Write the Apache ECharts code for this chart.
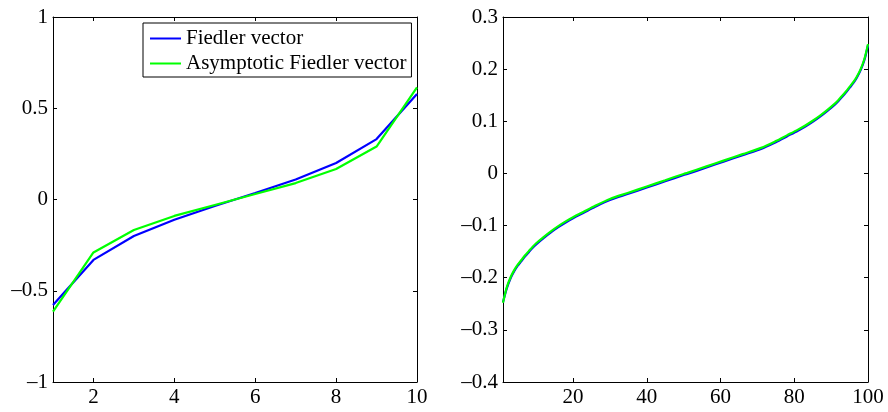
<!DOCTYPE html>
<html>
<head>
<meta charset="utf-8">
<script src="https://cdn.jsdelivr.net/npm/echarts@6/dist/echarts.min.js"></script>
<style>
html,body{margin:0;padding:0;background:#fff;}
#c{width:888px;height:412px;}
</style>
</head>
<body>
<div id="c"></div>
<script>
// ---- data ----
const seriesNames = ['Fiedler vector', 'Asymptotic Fiedler vector'];

const leftX = [1, 2, 3, 4, 5, 6, 7, 8, 9, 10];
const leftFiedler = [-0.578, -0.331, -0.200, -0.111, -0.036, 0.036, 0.110, 0.200, 0.331, 0.578];
const leftAsym    = [-0.615, -0.290, -0.167, -0.090, -0.030, 0.030, 0.090, 0.167, 0.290, 0.615];

const rightX = [1, 2, 3, 4, 5, 6, 7, 8, 9, 10, 12, 14, 16, 18, 20, 23, 26, 30, 35, 40, 45, 50,
                51, 56, 61, 66, 71, 75, 78, 81, 83, 85, 87, 89, 91, 92, 93, 94, 95, 96, 97, 98, 99, 100];
const rightFiedler = [-0.247, -0.221, -0.202, -0.188, -0.177, -0.168, -0.159, -0.151, -0.143, -0.136,
                      -0.124, -0.113, -0.103, -0.094, -0.086, -0.075, -0.064, -0.051, -0.039, -0.027,
                      -0.015, -0.003, -0.001, 0.011, 0.023, 0.035, 0.047, 0.060, 0.071, 0.082, 0.090,
                      0.099, 0.109, 0.120, 0.132, 0.139, 0.147, 0.155, 0.164, 0.173, 0.184, 0.198,
                      0.217, 0.246];
const rightAsym = [-0.248, -0.219, -0.200, -0.186, -0.175, -0.166, -0.157, -0.149, -0.141, -0.134,
                   -0.122, -0.111, -0.101, -0.092, -0.084, -0.073, -0.062, -0.049, -0.037, -0.025,
                   -0.013, -0.001, 0.001, 0.013, 0.025, 0.037, 0.049, 0.062, 0.073, 0.084, 0.092,
                   0.101, 0.111, 0.122, 0.134, 0.141, 0.149, 0.157, 0.166, 0.175, 0.186, 0.200,
                   0.219, 0.248];

const leftXTicks = [2, 4, 6, 8, 10];
const rightXTicks = [20, 40, 60, 80, 100];

// ---- chart ----
const FONT = 'Liberation Serif';
const pair = (xs, ys) => xs.map((x, i) => [x, ys[i]]);
const fmtY = v => {
  const r = Math.round(v * 10) / 10;
  if (r === 0) return '0';
  return (r < 0 ? '\u2013' : '') + String(Math.abs(r));
};

function xAx(grid, min, max, ticks, pos, showLabel) {
  return {
    type: 'value', gridIndex: grid, min: min, max: max, position: pos,
    splitLine: { show: false },
    axisLine: { show: true, onZero: false, lineStyle: { color: '#000', width: 1 } },
    axisTick: { show: true, inside: true, length: 4, customValues: ticks, lineStyle: { color: '#000' } },
    axisLabel: { show: showLabel, customValues: ticks, margin: 5, color: '#000',
                 fontFamily: FONT, fontSize: 21 }
  };
}
function yAx(grid, min, max, interval, pos, showLabel) {
  return {
    type: 'value', gridIndex: grid, min: min, max: max, interval: interval, position: pos,
    splitLine: { show: false },
    axisLine: { show: true, onZero: false, lineStyle: { color: '#000', width: 1 } },
    axisTick: { show: true, inside: true, length: 4, lineStyle: { color: '#000' } },
    axisLabel: { show: showLabel, margin: 5, color: '#000', fontFamily: FONT, fontSize: 21,
                 formatter: fmtY, showMinLabel: true, showMaxLabel: true }
  };
}

const chart = echarts.init(document.getElementById('c'), null, { renderer: 'canvas' });
chart.setOption({
  animation: false,
  backgroundColor: '#fff',
  grid: [
    { left: 53, top: 17, width: 364, height: 365 },
    { left: 503, top: 17, width: 365, height: 365 }
  ],
  xAxis: [
    xAx(0, 1, 10, leftXTicks, 'bottom', true),
    xAx(1, 1, 100, rightXTicks, 'bottom', true),
    xAx(0, 1, 10, leftXTicks, 'top', false),
    xAx(1, 1, 100, rightXTicks, 'top', false)
  ],
  yAxis: [
    yAx(0, -1, 1, 0.5, 'left', true),
    yAx(1, -0.4, 0.3, 0.1, 'left', true),
    yAx(0, -1, 1, 0.5, 'right', false),
    yAx(1, -0.4, 0.3, 0.1, 'right', false)
  ],
  legend: {
    data: seriesNames,
    orient: 'vertical',
    left: 143, top: 23,
    padding: [5, 5, 3, 7],
    itemGap: 4,
    icon: 'rect',
    itemWidth: 31, itemHeight: 2,
    borderColor: '#000', borderWidth: 1,
    backgroundColor: '#fff',
    textStyle: { fontFamily: FONT, fontSize: 21, color: '#000' },
    z: 10
  },
  series: [
    { name: seriesNames[0], type: 'line', xAxisIndex: 0, yAxisIndex: 0, data: pair(leftX, leftFiedler),
      symbol: 'none', lineStyle: { color: '#0000ff', width: 2.2 }, itemStyle: { color: '#0000ff' } },
    { name: seriesNames[1], type: 'line', xAxisIndex: 0, yAxisIndex: 0, data: pair(leftX, leftAsym),
      symbol: 'none', lineStyle: { color: '#00ff00', width: 2.2 }, itemStyle: { color: '#00ff00' } },
    { name: seriesNames[0], type: 'line', xAxisIndex: 1, yAxisIndex: 1, data: pair(rightX, rightFiedler),
      symbol: 'none', smooth: 0.3, lineStyle: { color: '#0000ff', width: 2.2 }, itemStyle: { color: '#0000ff' } },
    { name: seriesNames[1], type: 'line', xAxisIndex: 1, yAxisIndex: 1, data: pair(rightX, rightAsym),
      symbol: 'none', smooth: 0.3, lineStyle: { color: '#00ff00', width: 2.2 }, itemStyle: { color: '#00ff00' } }
  ]
});
</script>
</body>
</html>
